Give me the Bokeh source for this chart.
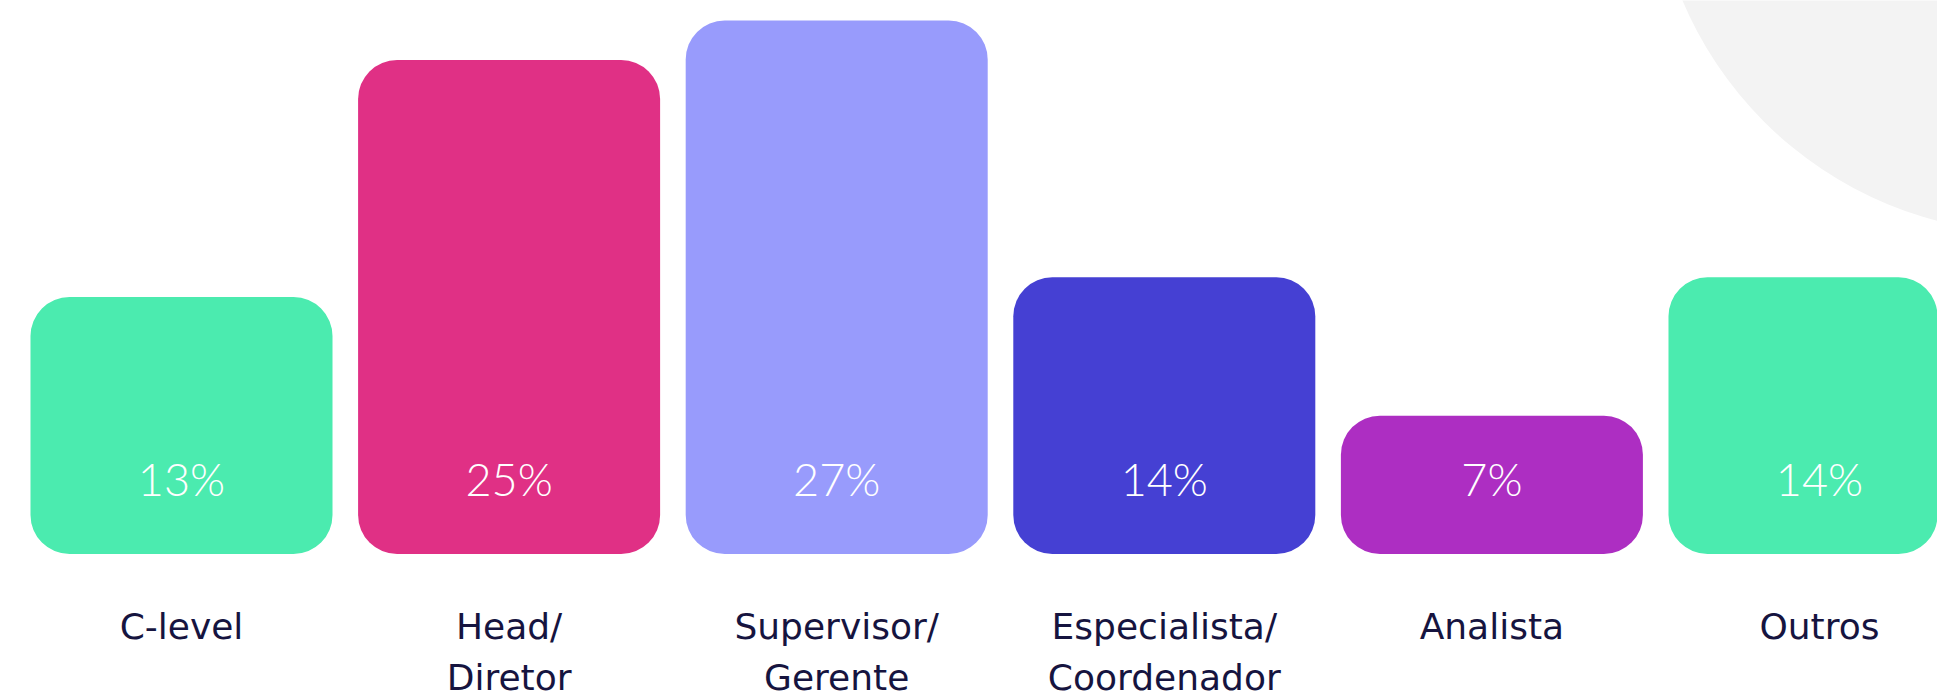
from bokeh.plotting import figure
from bokeh.models import Range1d, ColumnDataSource
from bokeh.core.properties import value
from bokeh.embed import file_html
from bokeh.resources import INLINE

# ---- data ----
categories = ["C-level", "Head/\nDiretor", "Supervisor/\nGerente",
              "Especialista/\nCoordenador", "Analista", "Outros"]
values = [13, 25, 27, 14, 7, 14]
labels = ["13%", "25%", "27%", "14%", "7%", "14%"]
colors = ["#4BEBAF", "#E03085", "#989BFC", "#4540D3", "#AD2EC2", "#4BEBAF"]

W, H = 1937, 698
p = figure(width=W, height=H, output_backend="svg", toolbar_location=None,
           x_range=Range1d(-0.5525, 5.3602), y_range=Range1d(-7.313, 28.011),
           min_border=0, background_fill_color="white", border_fill_color="white")
p.axis.visible = False
p.grid.visible = False
p.outline_line_color = None

# decorative background circle (top right)
p.ellipse(x=[5.653], y=[35.5], width=762, height=762,
          width_units="screen", height_units="screen",
          fill_color="#F3F3F3", line_color=None)

idx = list(range(len(values)))
src = ColumnDataSource(dict(x=idx, top=values, color=colors, label=labels))
p.vbar(x="x", top="top", bottom=0, width=0.9219, source=src,
       fill_color="color", line_color=None, border_radius=39)

p.text(x="x", y=0, text="label", source=src, text_color="white",
       text_font=value("Lato Light"), text_font_size="45px",
       text_align="center", text_baseline="alphabetic", y_offset=-75)

line1, line2, x1, x2 = [], [], [], []
for i, c in enumerate(categories):
    parts = c.split("\n")
    x1.append(i); line1.append(parts[0])
    if len(parts) > 1:
        x2.append(i); line2.append(parts[1])

p.text(x=x1, y=[0] * len(x1), text=line1, text_color="#16143F",
       text_font=value("DejaVu Sans"), text_font_size="36px",
       text_align="center", text_baseline="alphabetic", y_offset=73)
p.text(x=x2, y=[0] * len(x2), text=line2, text_color="#16143F",
       text_font=value("DejaVu Sans"), text_font_size="36px",
       text_align="center", text_baseline="alphabetic", y_offset=124)

open("out.html", "w").write(file_html(p, INLINE))
